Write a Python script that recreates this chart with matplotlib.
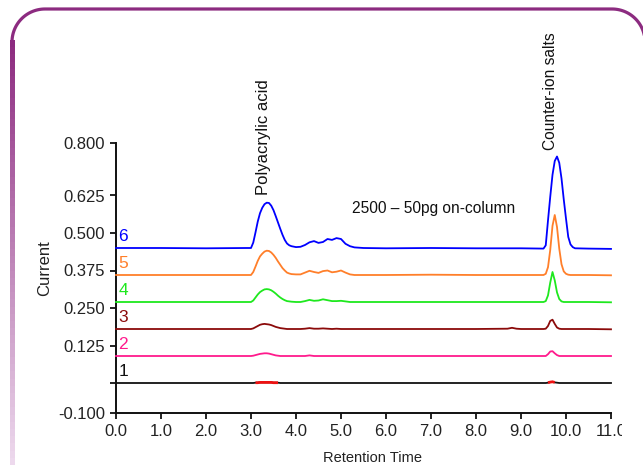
import numpy as np
import matplotlib
matplotlib.use("Agg")
import matplotlib.pyplot as plt
from matplotlib.collections import LineCollection
from matplotlib.transforms import Affine2D, Bbox, TransformedBbox, IdentityTransform

plt.rcParams['font.family'] = ['Liberation Sans', 'DejaVu Sans']

# ---------------- data ----------------
time = [0.0, 1.0, 2.0, 2.9,
        3.0, 3.05, 3.1, 3.15, 3.2, 3.25, 3.3, 3.35, 3.4, 3.45, 3.5, 3.55, 3.6, 3.65, 3.7, 3.75, 3.8, 3.85, 3.9,
        4.0, 4.1, 4.2, 4.3, 4.4, 4.5, 4.6, 4.7, 4.8, 4.9, 5.0, 5.1, 5.2, 5.3,
        5.5, 6.0, 7.0, 8.0, 8.7, 8.8, 8.9, 9.0,
        9.5, 9.55, 9.6, 9.65, 9.7, 9.75, 9.8, 9.85, 9.9, 9.95, 10.0, 10.05, 10.1, 10.15, 10.2,
        10.5, 11.0]

trace_labels = ['1', '2', '3', '4', '5', '6']
offsets = [0.0, 0.09, 0.18, 0.27, 0.36, 0.45]

signal_1 = [0, 0, 0, 0,
            0, 0, 0.001, 0.001, 0.002, 0.002, 0.002, 0.002, 0.002, 0.002, 0.001, 0.001, 0.001, 0, 0, 0, 0, 0, 0,
            0, 0, 0, 0, 0, 0, 0, 0, 0, 0, 0, 0, 0, 0,
            0, 0, 0, 0, 0, 0, 0, 0,
            0, 0, 0.001, 0.003, 0.004, 0.002, 0.001, 0, 0, 0, 0, 0, 0, 0, 0,
            0, 0]
signal_2 = [0, 0, 0, 0,
            0, 0.001, 0.003, 0.005, 0.007, 0.008, 0.009, 0.009, 0.008, 0.006, 0.004, 0.002, 0.001, 0, 0, 0, 0, 0, 0,
            0, 0, 0, 0.002, 0, 0, 0, 0, 0, 0, 0, 0, 0, 0,
            0, 0, 0, 0, 0, 0, 0, 0,
            0, 0, 0.006, 0.015, 0.016, 0.009, 0.003, 0, 0, 0, 0, 0, 0, 0, 0,
            0, 0]
signal_3 = [0, 0, 0, 0,
            0, 0.002, 0.006, 0.010, 0.014, 0.016, 0.017, 0.016, 0.015, 0.013, 0.010, 0.007, 0.005, 0.003, 0.002, 0.001, 0, 0, 0,
            0, 0, 0.001, 0.003, 0.001, 0.001, 0.002, 0.001, 0, 0.001, 0, 0, 0, 0,
            0, 0, 0, 0, 0.001, 0.004, 0.001, 0,
            0, 0.001, 0.010, 0.027, 0.031, 0.017, 0.005, 0.001, 0, 0, 0, 0, 0, 0, 0,
            0, -0.001]
signal_4 = [0, 0, 0, 0,
            0, 0.005, 0.015, 0.025, 0.033, 0.038, 0.042, 0.043, 0.042, 0.039, 0.034, 0.028, 0.021, 0.015, 0.010, 0.006, 0.003, 0.002, 0.001,
            0, 0, 0.003, 0.007, 0.004, 0.005, 0.009, 0.006, 0.003, 0.003, 0.004, 0.002, 0, 0,
            0, 0, 0, 0, 0, 0, 0, 0,
            0, 0.003, 0.022, 0.065, 0.100, 0.072, 0.032, 0.010, 0.002, 0, 0, 0, 0, 0, 0,
            0, -0.001]
signal_5 = [0, 0, 0, 0,
            0, 0.010, 0.028, 0.047, 0.062, 0.071, 0.078, 0.081, 0.080, 0.075, 0.067, 0.057, 0.045, 0.034, 0.023, 0.015, 0.008, 0.005, 0.003,
            0.002, 0.002, 0.008, 0.014, 0.010, 0.007, 0.013, 0.015, 0.009, 0.011, 0.015, 0.008, 0.002, 0,
            0, 0, 0.001, 0, 0, 0, 0, 0,
            0, 0.004, 0.026, 0.084, 0.164, 0.200, 0.160, 0.088, 0.036, 0.012, 0.004, 0.001, 0, 0, 0,
            0, -0.001]
signal_6 = [0, 0, -0.001, 0,
            0, 0.018, 0.052, 0.088, 0.116, 0.134, 0.146, 0.151, 0.150, 0.141, 0.126, 0.106, 0.085, 0.064, 0.044, 0.027, 0.015, 0.009, 0.006,
            0.003, 0.004, 0.010, 0.019, 0.023, 0.017, 0.020, 0.030, 0.027, 0.033, 0.030, 0.014, 0.006, 0.002,
            0, -0.001, 0, -0.001, -0.001, -0.001, -0.001, -0.001,
            -0.002, 0.009, 0.092, 0.171, 0.244, 0.290, 0.305, 0.284, 0.232, 0.162, 0.098, 0.037, 0.012, 0.003, -0.001,
            -0.002, -0.003]
signals = [signal_1, signal_2, signal_3, signal_4, signal_5, signal_6]

# integration marks on trace 1 (start, end)
mark_ranges = [(3.1, 3.6), (9.6, 9.75)]

yticks = [-0.100, 0.0, 0.125, 0.250, 0.375, 0.500, 0.625, 0.800]
ytick_labels = ['-0.100', '', '0.125', '0.250', '0.375', '0.500', '0.625', '0.800']
xticks = [0.0, 1.0, 2.0, 3.0, 4.0, 5.0, 6.0, 7.0, 8.0, 9.0, 10.0, 11.0]
xtick_labels = ['0.0', '1.0', '2.0', '3.0', '4.0', '5.0', '6.0', '7.0', '8.0', '9.0', '10.0', '11.0']

colors = ['#111111', '#FF1A8C', '#8B0A0A', '#1EE81E', '#FF7F2A', '#0000FF']

# ---------------- figure ----------------
W, H = 643, 465
fig = plt.figure(figsize=(W / 100, H / 100), dpi=100)
fig.patch.set_facecolor('white')

# rounded purple frame (pixel coords, top-left origin -> converted)
px = Affine2D().scale(1 / W, 1 / H) + fig.transFigure
purple = np.array([0.55, 0.17, 0.50])
light = np.array([0.93, 0.85, 0.93])
r = 33
xl, yt = 12, 9
a1 = np.linspace(np.pi, np.pi / 2, 30)
arc1 = np.c_[xl + r + r * np.cos(a1), H - (yt + r - r * np.sin(a1))]
xr = 645
a2 = np.linspace(np.pi / 2, 0, 30)
arc2 = np.c_[xr - r + r * np.cos(a2), H - (yt + r - r * np.sin(a2))]
top = np.vstack([arc1, arc2, [[xr, H - 60]]])
fig.add_artist(plt.Line2D(top[:, 0], top[:, 1], transform=px, color=purple,
                          lw=2.3, solid_capstyle='projecting'))
ys = np.linspace(yt + r, H + 2, 60)
segs = [[(xl, H - ys[i]), (xl, H - ys[i + 1])] for i in range(len(ys) - 1)]
fr = np.linspace(0, 1, len(segs))[:, None]
cols = purple * (1 - fr) + light * fr
fig.add_artist(LineCollection(segs, colors=cols, linewidths=2.3, transform=px,
                              capstyle='projecting', antialiased=False))

ax = fig.add_axes([116 / W, (H - 413) / H, 495 / W, 270 / H])
ax.set_facecolor('none')
ax.set_xlim(0, 11)
ax.set_ylim(-0.1, 0.8)

t = np.array(time)
for lab, off, sig, c in zip(trace_labels, offsets, signals, colors):
    y = off + np.array(sig)
    ax.plot(t, y, color=c, lw=1.3, clip_on=False, zorder=3)
    ax.text(0.05, off + 0.013, lab, color=c, fontsize=12.5, ha='left', va='bottom')

y1 = offsets[0] + np.array(signal_1)
for a, b in mark_ranges:
    m = (t >= a) & (t <= b)
    ax.plot(t[m], y1[m], color='#EE1111', lw=2.0, zorder=4, solid_capstyle='butt')

for s in ['top', 'right']:
    ax.spines[s].set_visible(False)
for s in ['left', 'bottom']:
    ax.spines[s].set_linewidth(1.4)
    ax.spines[s].set_color('#111111')

ax.set_yticks(yticks)
ax.set_yticklabels(ytick_labels)
ax.set_xticks(xticks)
ax.set_xticklabels(xtick_labels)
ax.tick_params(axis='both', direction='out', length=4.5, width=1.3, color='#111111',
               labelsize=12, labelcolor='#222222', pad=3.5)

# clip the last x tick label like in the reference
clipbox = TransformedBbox(Bbox([[0, 0], [622, H]]), IdentityTransform())
lbl = ax.xaxis.get_major_ticks()[-1].label1
lbl.set_clip_box(clipbox)
lbl.set_clip_on(True)

ax.text(3.27, 0.627, 'Polyacrylic acid', rotation=90, ha='center', va='bottom',
        fontsize=12, color='#111111')
ax.text(9.66, 0.777, 'Counter-ion salts', rotation=90, ha='center', va='bottom',
        fontsize=11.2, color='#111111')
ax.text(5.24, 0.583, '2500 \u2013 50pg on-column', ha='left', va='center',
        fontsize=11.2, color='#111111')

fig.text(45 / W, 1 - 268 / H, 'Current', rotation=90, ha='center', va='center',
         fontsize=12, color='#222222')
fig.text(372 / W, 1 - 458 / H, 'Retention Time', ha='center', va='center',
         fontsize=10.5, color='#222222')

fig.savefig('out.png', dpi=100, facecolor='white')
